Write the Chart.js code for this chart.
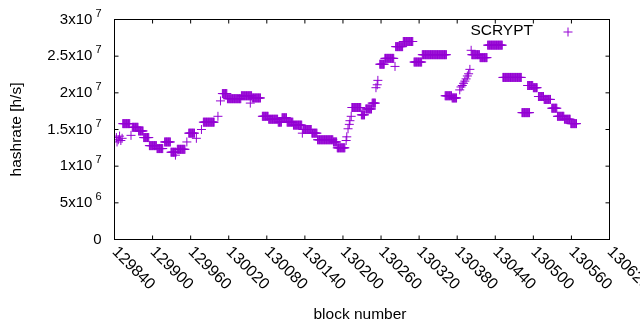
<!DOCTYPE html>
<html>
<head>
<meta charset="utf-8">
<style>
  html, body { margin: 0; background: #fff; }
</style>
</head>
<body>
<canvas id="c" width="640" height="330"></canvas>
<script src="https://cdn.jsdelivr.net/npm/chart.js@4/dist/chart.umd.min.js"></script>
<script>
const segStart = [
  129843, 129844, 129846, 129848, 129850, 129852, 129853, 129866, 129868, 129878,
  129886, 129895, 129907, 129919, 129929, 129936, 129939, 129954, 129957, 129969,
  129977, 129980, 130003, 130007, 130010, 130018, 130040, 130054, 130057, 130073,
  130083, 130098, 130104, 130112, 130122, 130136, 130137, 130151, 130160, 130185,
  130191, 130205, 130206, 130208, 130210, 130211, 130213, 130214, 130229, 130236,
  130246, 130252, 130254, 130255, 130258, 130266, 130282, 130283, 130295, 130312,
  130325, 130361, 130372, 130384, 130386, 130388, 130390, 130392, 130394, 130396,
  130398, 130400, 130402, 130403, 130416, 130428, 130452, 130482, 130491, 130500,
  130508, 130517, 130529, 130538, 130549, 130559
];
const segEnd = [
  129843, 129844, 129846, 129848, 129850, 129852, 129864, 129866, 129877, 129885,
  129894, 129906, 129916, 129928, 129937, 129936, 129951, 129954, 129966, 129969,
  129977, 129997, 130003, 130007, 130017, 130039, 130056, 130054, 130070, 130082,
  130097, 130103, 130111, 130121, 130135, 130136, 130150, 130159, 130184, 130190,
  130203, 130205, 130206, 130208, 130210, 130211, 130213, 130228, 130234, 130245,
  130251, 130252, 130254, 130255, 130265, 130280, 130282, 130294, 130310, 130324,
  130363, 130371, 130379, 130384, 130386, 130388, 130390, 130392, 130394, 130396,
  130398, 130400, 130402, 130415, 130427, 130451, 130481, 130494, 130499, 130506,
  130516, 130527, 130537, 130548, 130558, 130568
];
const segValue = [
  13.9e6, 13.3e6, 13.6e6, 14.1e6, 13.5e6, 13.8e6, 15.8e6, 14.2e6, 15.3e6, 14.8e6,
  13.9e6, 12.8e6, 12.4e6, 13.3e6, 11.9e6, 11.5e6, 12.3e6, 13.3e6, 14.5e6, 13.8e6,
  15.0e6, 16.0e6, 16.8e6, 18.9e6, 19.9e6, 19.2e6, 19.6e6, 18.6e6, 19.3e6, 16.8e6,
  16.4e6, 16.0e6, 16.6e6, 16.0e6, 15.6e6, 14.5e6, 15.0e6, 14.5e6, 13.6e6, 13.3e6,
  12.5e6, 13.5e6, 14.0e6, 15.1e6, 15.7e6, 16.2e6, 16.8e6, 18.0e6, 17.0e6, 17.8e6,
  18.6e6, 20.7e6, 21.1e6, 21.7e6, 23.9e6, 24.7e6, 23.6e6, 26.3e6, 27.0e6, 24.2e6,
  25.2e6, 19.6e6, 19.3e6, 20.4e6, 20.8e6, 21.0e6, 21.3e6, 21.6e6, 21.9e6, 22.3e6,
  22.6e6, 23.2e6, 25.8e6, 25.2e6, 24.8e6, 26.5e6, 22.1e6, 17.3e6, 21.0e6, 20.7e6,
  19.5e6, 19.1e6, 17.9e6, 16.8e6, 16.4e6, 15.8e6
];

const xTicks = [129840, 129900, 129960, 130020, 130080, 130140, 130200,
                130260, 130320, 130380, 130440, 130500, 130560, 130620];
const yTicks = [0, 5e6, 1e7, 1.5e7, 2e7, 2.5e7, 3e7];
const yTickBase = ['0', '5x10', '1x10', '1.5x10', '2x10', '2.5x10', '3x10'];
const yTickExp = ['', '6', '7', '7', '7', '7', '7'];

const COLOR = '#9400d3';
const FONT = "'Liberation Sans', Arial, sans-serif";
const TICK = 4;

// one point per block inside each run
const points = [];
segStart.forEach((s, i) => {
  for (let b = s; b <= segEnd[i]; b++) points.push({ x: b, y: segValue[i] });
});

const cross = (ctx, x, y, r) => {
  ctx.beginPath();
  ctx.moveTo(x - r, y); ctx.lineTo(x + r, y);
  ctx.moveTo(x, y - r); ctx.lineTo(x, y + r);
  ctx.stroke();
};

const frame = {
  id: 'frame',
  afterDraw(chart) {
    const { ctx, chartArea: a, scales: { x, y } } = chart;
    ctx.save();
    ctx.strokeStyle = '#000';
    ctx.lineWidth = 1;
    ctx.strokeRect(a.left, a.top, a.right - a.left, a.bottom - a.top);

    ctx.beginPath();
    xTicks.forEach(t => {
      const px = x.getPixelForValue(t);
      ctx.moveTo(px, a.bottom); ctx.lineTo(px, a.bottom - TICK);
      ctx.moveTo(px, a.top); ctx.lineTo(px, a.top + TICK);
    });
    yTicks.forEach(t => {
      const py = y.getPixelForValue(t);
      ctx.moveTo(a.left, py); ctx.lineTo(a.left + TICK, py);
      ctx.moveTo(a.right, py); ctx.lineTo(a.right - TICK, py);
    });
    ctx.stroke();

    ctx.fillStyle = '#000';
    ctx.textBaseline = 'middle';

    // y labels with superscript exponent
    yTicks.forEach((t, i) => {
      const py = y.getPixelForValue(t);
      const right = a.left - 13;
      ctx.font = '11px ' + FONT;
      const ew = yTickExp[i] ? ctx.measureText(yTickExp[i]).width + 3 : 0;
      if (yTickExp[i]) {
        ctx.textAlign = 'right';
        ctx.fillText(yTickExp[i], right, py - 6);
      }
      ctx.font = '15px ' + FONT;
      ctx.textAlign = 'right';
      ctx.fillText(yTickBase[i], right - ew, py);
    });

    // x labels rotated down to the right
    ctx.font = '16px ' + FONT;
    ctx.textAlign = 'left';
    xTicks.forEach(t => {
      const px = x.getPixelForValue(t);
      ctx.save();
      ctx.translate(px, a.bottom + 10);
      ctx.rotate(Math.PI / 4);
      ctx.fillText(String(t), 0, 0);
      ctx.restore();
    });

    // axis titles
    ctx.font = '15.5px ' + FONT;
    ctx.textAlign = 'center';
    ctx.fillText('block number', (a.left + a.right) / 2 - 2, 315);
    ctx.save();
    ctx.translate(17, (a.top + a.bottom) / 2);
    ctx.rotate(-Math.PI / 2);
    ctx.fillText('hashrate [h/s]', 0, 0);
    ctx.restore();

    // key
    ctx.textAlign = 'right';
    ctx.fillText(chart.data.datasets[0].label, 533, 31);
    ctx.strokeStyle = COLOR;
    cross(ctx, 568, 32, 4.5);
    ctx.restore();
  }
};

new Chart(document.getElementById('c'), {
  type: 'scatter',
  data: {
    datasets: [{
      label: 'SCRYPT',
      data: points,
      pointStyle: 'cross',
      pointRadius: 4.5,
      pointBorderWidth: 1,
      borderColor: COLOR,
      backgroundColor: COLOR,
      showLine: false
    }]
  },
  options: {
    responsive: false,
    animation: false,
    layout: { padding: { left: 114.5, right: 30.5, top: 19.5, bottom: 90.5 } },
    plugins: { legend: { display: false }, tooltip: { enabled: false } },
    scales: {
      x: { type: 'linear', display: false, min: 129840, max: 130620 },
      y: { display: false, min: 0, max: 3e7 }
    }
  },
  plugins: [frame]
});
</script>
</body>
</html>
